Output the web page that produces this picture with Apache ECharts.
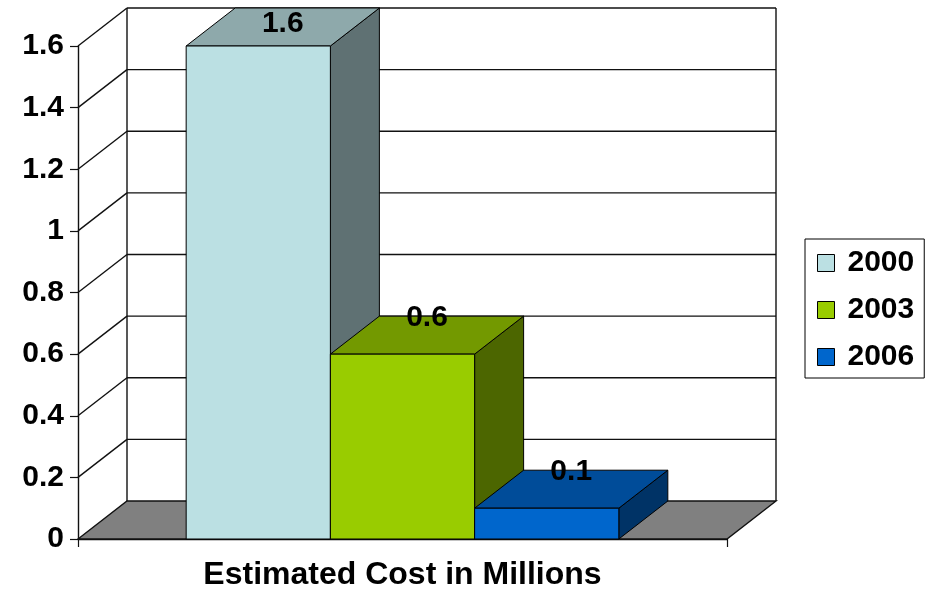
<!DOCTYPE html>
<html>
<head>
<meta charset="utf-8">
<script src="https://cdn.jsdelivr.net/npm/echarts@6/dist/echarts.min.js"></script>
<style>html,body{margin:0;padding:0;background:#fff;}#chart{width:930px;height:592px;}</style>
</head>
<body>
<div id="chart"></div>
<script>
// ---- data ----
const categories = ['Estimated Cost in Millions'];
const years = ['2000', '2003', '2006'];
const values = [1.6, 0.6, 0.1];
const gridValues = [0, 0.2, 0.4, 0.6, 0.8, 1.0, 1.2, 1.4, 1.6];
const frontColors = ['#BBE0E3', '#99CC00', '#0066CC'];
const topColors = ['#8EA9AB', '#739900', '#004C99'];
const sideColors = ['#5F7173', '#4C6600', '#003366'];

// 3D depth offset (px)
const DX = 49, DY = -38;
const FONT = '"Liberation Sans", Arial, sans-serif';

const chart = echarts.init(document.getElementById('chart'), null, {renderer: 'canvas'});

function wallRender(params, api) {
  const v = api.value(1);
  const p = api.coord([0, v]);
  const band = api.size([1, 0])[0];
  const left = p[0] - band / 2, right = p[0] + band / 2;
  const y = p[1];
  const line = {stroke: '#111', lineWidth: 1.4};
  const children = [];
  if (v === 0) {
    const top = api.coord([0, gridValues[gridValues.length - 1]])[1];
    children.push({type: 'polygon', shape: {points: [[left, y], [left + DX, y + DY], [right + DX, y + DY], [right, y]]},
      style: {fill: '#808080', stroke: '#111', lineWidth: 1.4}});
    children.push({type: 'line', shape: {x1: left + DX, y1: y + DY, x2: left + DX, y2: top + DY}, style: line});
    children.push({type: 'line', shape: {x1: right + DX, y1: y + DY, x2: right + DX, y2: top + DY}, style: line});
  } else {
    children.push({type: 'line', shape: {x1: left, y1: y, x2: left + DX, y2: y + DY}, style: line});
    children.push({type: 'line', shape: {x1: left + DX, y1: y + DY, x2: right + DX, y2: y + DY}, style: line});
  }
  return {type: 'group', children: children};
}

function barRender(i) {
  return function (params, api) {
    const base = api.coord([api.value(0), 0]);
    const top = api.coord([api.value(0), api.value(1)]);
    const band = api.size([1, 0])[0];
    const bw = band / (years.length + 1.5);
    const x0 = base[0] - bw * years.length / 2 + i * bw, x1 = x0 + bw;
    const yb = base[1], yt = top[1];
    const edge = {stroke: '#000', lineWidth: 1};
    const labelY = Math.max(yt + DY + 2, 24);
    return {
      type: 'group',
      children: [
        {type: 'polygon', shape: {points: [[x1, yt], [x1 + DX, yt + DY], [x1 + DX, yb + DY], [x1, yb]]},
          style: Object.assign({fill: sideColors[i]}, edge)},
        {type: 'polygon', shape: {points: [[x0, yt], [x0 + DX, yt + DY], [x1 + DX, yt + DY], [x1, yt]]},
          style: Object.assign({fill: topColors[i]}, edge)},
        {type: 'polygon', shape: {points: [[x0, yt], [x1, yt], [x1, yb], [x0, yb]]},
          style: Object.assign({fill: frontColors[i]}, edge)},
        {type: 'text', style: {x: (x0 + x1) / 2 + DX / 2, y: labelY, text: String(api.value(1)),
          fontSize: 30, fontWeight: 'bold', fontFamily: FONT, fill: '#000', align: 'center', verticalAlign: 'middle'}, z2: 10}
      ]
    };
  };
}

const series = [{
  type: 'custom', name: 'walls', z: 1, clip: false, silent: true,
  data: gridValues.map(v => [0, v]),
  renderItem: wallRender
}];
years.forEach((yr, i) => {
  series.push({
    type: 'custom', name: yr, z: 2 + i, clip: false,
    itemStyle: {color: frontColors[i], borderColor: '#000', borderWidth: 1},
    data: [[0, values[i]]],
    renderItem: barRender(i)
  });
});

chart.setOption({
  animation: false,
  backgroundColor: '#fff',
  grid: {left: 78, right: 203, top: 46, bottom: 53, containLabel: false},
  xAxis: {
    type: 'category', data: categories,
    axisLine: {show: true, lineStyle: {color: '#111', width: 1.4}},
    axisTick: {show: true, inside: false, length: 8, lineStyle: {color: '#111', width: 1.2}},
    axisLabel: {margin: 20, fontSize: 32, fontWeight: 'bold', fontFamily: FONT, color: '#000'},
    splitLine: {show: false}
  },
  yAxis: {
    type: 'value', min: 0, max: 1.6, interval: 0.2,
    axisLine: {show: true, lineStyle: {color: '#111', width: 1.4}},
    axisTick: {show: true, inside: false, length: 8, lineStyle: {color: '#111', width: 1.2}},
    axisLabel: {margin: 14, fontSize: 30, fontWeight: 'bold', fontFamily: FONT, color: '#000'},
    splitLine: {show: false}
  },
  legend: {
    data: years, orient: 'vertical', left: 805, top: 239,
    padding: [9, 10, 6, 12], itemGap: 17, itemWidth: 17, itemHeight: 17,
    icon: 'rect', borderColor: '#000', borderWidth: 1, backgroundColor: '#fff',
    itemStyle: {borderColor: '#000', borderWidth: 1},
    textStyle: {fontSize: 30, fontWeight: 'bold', fontFamily: FONT, color: '#000', padding: [0, 0, 0, 8]},
    selectedMode: false
  },
  series: series
});
</script>
</body>
</html>
